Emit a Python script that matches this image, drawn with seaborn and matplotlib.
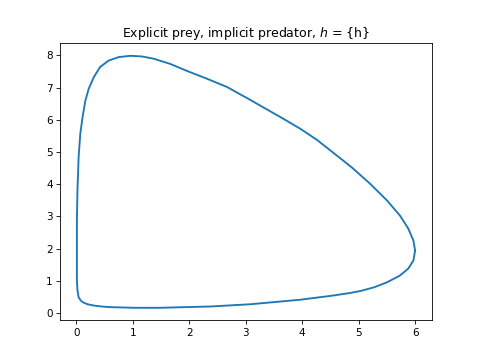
import matplotlib
matplotlib.use("Agg")
import matplotlib.pyplot as plt
import seaborn as sns
import pandas as pd

# limit cycle (prey vs predator)
prey = [6.0, 5.97, 5.88, 5.73, 5.5, 5.2, 4.88, 4.55, 4.26, 3.97, 3.67, 3.08,
        2.67, 2.31, 1.96, 1.66, 1.37, 1.16, 0.96, 0.75, 0.57, 0.42, 0.31, 0.22,
        0.16, 0.11, 0.07, 0.04, 0.02, 0.01, 0.01, 0.01, 0.02, 0.04, 0.08, 0.13,
        0.2, 0.31, 0.45, 0.6, 1.04, 1.49, 1.9, 2.37, 3.08, 3.96, 4.5, 4.85,
        5.05, 5.28, 5.5, 5.73, 5.88, 5.97, 6.0]
pred = [1.94, 2.25, 2.62, 3.03, 3.5, 4.02, 4.52, 4.98, 5.38, 5.72, 6.03, 6.62,
        7.02, 7.28, 7.52, 7.74, 7.9, 7.97, 7.99, 7.95, 7.84, 7.64, 7.33, 6.97,
        6.6, 6.08, 5.57, 4.84, 3.81, 2.9, 1.94, 1.01, 0.7, 0.49, 0.38, 0.32,
        0.27, 0.23, 0.2, 0.18, 0.16, 0.16, 0.18, 0.2, 0.27, 0.41, 0.53, 0.62,
        0.69, 0.8, 0.95, 1.16, 1.38, 1.63, 1.94]

df = pd.DataFrame({'prey': prey, 'pred': pred})

fig, ax = plt.subplots(figsize=(6.4, 4.8), dpi=75)
sns.lineplot(data=df, x='prey', y='pred', sort=False, estimator=None,
             color='#1f77b4', linewidth=1.8, ax=ax)
ax.set_xlabel('')
ax.set_ylabel('')
ax.set_title(r"Explicit prey, implicit predator, $h$ = {h}")

plt.savefig('out.png', dpi=75)
